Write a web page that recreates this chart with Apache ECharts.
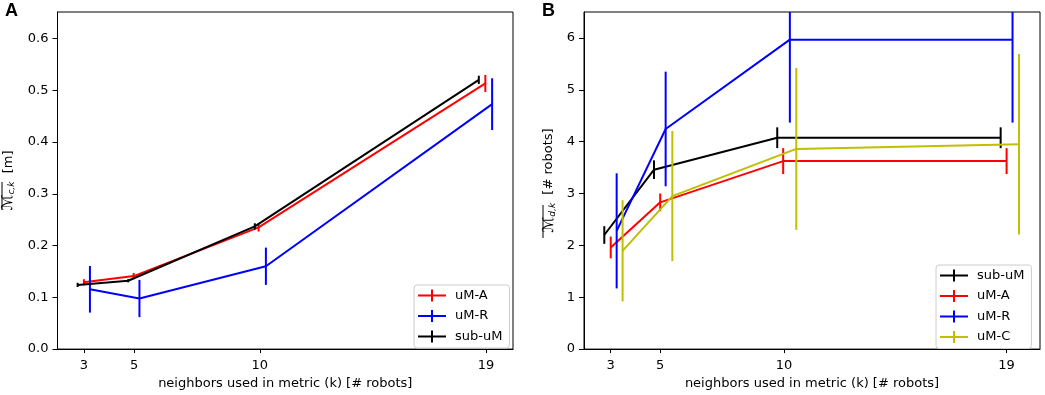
<!DOCTYPE html>
<html>
<head>
<meta charset="utf-8">
<script src="https://cdn.jsdelivr.net/npm/echarts@6/dist/echarts.min.js"></script>
<style>
  html, body { margin: 0; padding: 0; background: #fff; }
  #chart { width: 1045px; height: 395px; }
</style>
</head>
<body>
<div id="chart"></div>
<script>
// x ticks (neighbors k)
const kTicks = [3, 5, 10, 19]
const yTicksA = [0, 0.1, 0.2, 0.3, 0.4, 0.5, 0.6]
const yTicksB = [0, 1, 2, 3, 4, 5, 6]

// panel A - M_c,k [m]
const aNames = ['uM-A', 'uM-R', 'sub-uM']
const aX_uMA = [3, 4.98, 9.95, 18.97]
const aY_uMA = [0.129, 0.141, 0.235, 0.513]
const aE_uMA = [0.006, 0.006, 0.008, 0.0165]
const aX_uMR = [3.24, 5.21, 10.24, 19.24]
const aY_uMR = [0.1155, 0.0977, 0.160, 0.473]
const aE_uMR = [0.045, 0.036, 0.036, 0.05]
const aX_sub = [2.75, 4.76, 9.8, 18.71]
const aY_sub = [0.124, 0.132, 0.237, 0.52]
const aE_sub = [0.004, 0.003, 0.006, 0.008]

// panel B - M_d,k [# robots]
const bNames = ['sub-uM', 'uM-A', 'uM-R', 'uM-C']
const bX_sub = [2.74, 4.75, 9.73, 18.76]
const bY_sub = [2.2, 3.46, 4.076, 4.076]
const bE_sub = [0.17, 0.18, 0.2, 0.2]
const bX_uMA = [3, 5.0, 9.97, 19]
const bY_uMA = [1.96, 2.83, 3.625, 3.625]
const bE_uMA = [0.21, 0.17, 0.25, 0.25]
const bX_uMR = [3.24, 5.22, 10.24, 19.24]
const bY_uMR = [2.28, 4.245, 5.967, 5.967]
const bE_uMR = [1.11, 1.105, 1.6, 1.6]
const bX_uMC = [3.48, 5.49, 10.5, 19.5]
const bY_uMC = [1.895, 2.95, 3.86, 3.95]
const bE_uMC = [0.975, 1.255, 1.56, 1.74]

const colors = { 'uM-A': '#ff0000', 'uM-R': '#0000ff', 'sub-uM': '#000000', 'uM-C': '#bfbf00' }
const font = 'DejaVu Sans'
const fs = 13
const lw = 2

function renderErr(params, api) {
    const x = api.value(0), y = api.value(1), e = api.value(2)
    const top = api.coord([x, y + e])
    const bot = api.coord([x, y - e])
    const cs = params.coordSys
    const y1 = Math.max(top[1], cs.y)
    const y2 = Math.min(bot[1], cs.y + cs.height)
    return {
        type: 'line',
        shape: { x1: top[0], y1: y1, x2: bot[0], y2: y2 },
        style: { stroke: api.visual('color'), lineWidth: lw }
    }
}

const series = []
function addSeries(name, xs, ys, es, idx, z) {
    const pts = xs.map((x, i) => [x, ys[i]])
    const errs = xs.map((x, i) => [x, ys[i], es[i]])
    series.push({
        name: name, type: 'line', xAxisIndex: idx, yAxisIndex: idx,
        data: pts, symbol: 'none', showSymbol: false, z: z,
        color: colors[name],
        lineStyle: { color: colors[name], width: lw },
        emphasis: { disabled: true }, animation: false
    })
    series.push({
        name: name, type: 'custom', xAxisIndex: idx, yAxisIndex: idx,
        data: errs, renderItem: renderErr, z: z,
        encode: { x: 0, y: 1 },
        itemStyle: { color: colors[name] }, animation: false
    })
}

addSeries('uM-A', aX_uMA, aY_uMA, aE_uMA, 0, 2)
addSeries('uM-R', aX_uMR, aY_uMR, aE_uMR, 0, 3)
addSeries('sub-uM', aX_sub, aY_sub, aE_sub, 0, 4)
addSeries('sub-uM', bX_sub, bY_sub, bE_sub, 1, 2)
addSeries('uM-A', bX_uMA, bY_uMA, bE_uMA, 1, 3)
addSeries('uM-R', bX_uMR, bY_uMR, bE_uMR, 1, 4)
addSeries('uM-C', bX_uMC, bY_uMC, bE_uMC, 1, 5)

const legendIcon = 'path://M0,5 H28 V7 H0 Z M13,0 H15 V12 H13 Z'

function makeLegend(names, left, top) {
    return {
        orient: 'vertical', left: left, top: top,
        data: names.map(n => ({ name: n, icon: legendIcon, itemStyle: { color: colors[n] } })),
        itemWidth: 28, itemHeight: 12, itemGap: 7.5,
        symbolKeepAspect: false,
        padding: [4, 7, 5, 4],
        backgroundColor: 'rgba(255,255,255,0.8)',
        borderColor: '#cccccc', borderWidth: 1, borderRadius: 3,
        selectedMode: false,
        textStyle: { fontFamily: font, fontSize: fs, color: '#000', padding: [0, 0, 0, 4] }
    }
}

function xAxisFor(idx, min, max) {
    return {
        type: 'value', gridIndex: idx, min: min, max: max,
        name: 'neighbors used in metric (k) [# robots]',
        nameLocation: 'middle', nameGap: 26,
        nameTextStyle: { fontFamily: font, fontSize: fs, color: '#000' },
        axisLine: { show: true, lineStyle: { color: '#000', width: 1 } },
        axisTick: { show: true, length: 4, customValues: kTicks, lineStyle: { color: '#000' } },
        axisLabel: { customValues: kTicks, margin: 10, fontFamily: font, fontSize: fs, color: '#000' },
        splitLine: { show: false }
    }
}

function yAxisFor(idx, max, ticks, digits, name, gap) {
    return {
        type: 'value', gridIndex: idx, min: 0, max: max,
        name: name, nameLocation: 'middle', nameRotate: 90, nameGap: gap,
        nameTextStyle: {
            fontFamily: font, fontSize: fs, color: '#000',
            rich: {
                m: { fontFamily: font, fontSize: 15, fontStyle: 'italic', color: '#000' },
                s: { fontFamily: font, fontSize: 9, fontStyle: 'italic', color: '#000', padding: [7, 0, 0, 0] },
                t: { fontFamily: font, fontSize: fs, color: '#000' }
            }
        },
        axisLine: { show: true, lineStyle: { color: '#000', width: 1 } },
        axisTick: { show: true, length: 5, customValues: ticks, lineStyle: { color: '#000' } },
        axisLabel: {
            customValues: ticks, margin: 9, fontFamily: font, fontSize: fs, color: '#000',
            formatter: v => v.toFixed(digits)
        },
        splitLine: { show: false }
    }
}

const chart = echarts.init(document.getElementById('chart'), null, { renderer: 'canvas' })

const option = {
    backgroundColor: '#fff',
    animation: false,
    grid: [
        { left: 56, right: 532, top: 12, bottom: 42, show: true, borderColor: '#000', borderWidth: 1, backgroundColor: 'transparent' },
        { left: 584, right: 5, top: 12, bottom: 42, show: true, borderColor: '#000', borderWidth: 1, backgroundColor: 'transparent' }
    ],
    xAxis: [xAxisFor(0, 1.95, 20.07), xAxisFor(1, 1.92, 20.35)],
    yAxis: [
        yAxisFor(0, 0.651, yTicksA, 1, '{m|ℳ}{s|c,k}{t|  [m]}', 41),
        yAxisFor(1, 6.5, yTicksB, 0, '{m|ℳ}{s|d,k}{t|  [# robots]}', 27)
    ],
    legend: [makeLegend(aNames, 414, 285), makeLegend(bNames, 936, 265)],
    graphic: [
        { type: 'text', left: 5, top: 2, style: { text: 'A', font: 'bold 18px "Liberation Sans"', fill: '#000' } },
        { type: 'text', left: 542, top: 2, style: { text: 'B', font: 'bold 18px "Liberation Sans"', fill: '#000' } },
        { type: 'line', shape: { x1: 2, y1: 182, x2: 2, y2: 210 }, style: { stroke: '#000', lineWidth: 1 } },
        { type: 'line', shape: { x1: 543, y1: 205, x2: 543, y2: 238 }, style: { stroke: '#000', lineWidth: 1 } }
    ],
    series: series
}
chart.setOption(option)
</script>
</body>
</html>
